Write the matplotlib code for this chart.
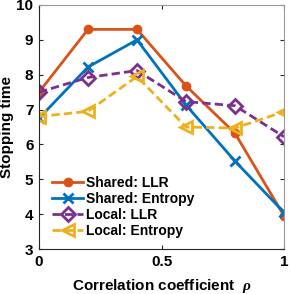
import matplotlib
matplotlib.use("Agg")
from matplotlib import pyplot as plt

plt.rcParams['font.family'] = ['Liberation Sans', 'DejaVu Sans']
plt.rcParams['font.weight'] = 'bold'
plt.rcParams['mathtext.fontset'] = 'custom'
plt.rcParams['mathtext.it'] = 'Liberation Serif:italic'

rho = [0, 0.2, 0.4, 0.6, 0.8, 1.0]
shared_llr = [7.5, 9.3, 9.3, 7.68, 6.32, 3.95]
shared_entropy = [6.75, 8.22, 9.0, 7.13, 5.52, 4.05]
local_llr = [7.5, 7.92, 8.12, 7.23, 7.11, 6.22]
local_entropy = [6.8, 6.95, 7.95, 6.5, 6.47, 6.94]

labels = ["Shared: LLR", "Shared: Entropy", "Local: LLR", "Local: Entropy"]

blue = (0, 0.447, 0.741)
orange = (0.85, 0.325, 0.098)
yellow = (0.929, 0.694, 0.125)
purple = (0.494, 0.184, 0.556)

fig = plt.figure(figsize=(2.91, 2.94), dpi=100)
ax = fig.add_axes([0.134, 0.153, 0.842, 0.830])

ax.plot(rho, shared_llr, color=orange, lw=2, marker='o', ms=6,
        mfc=orange, mec=orange, label=labels[0])
ax.plot(rho, shared_entropy, color=blue, lw=2, marker='x', ms=7,
        mew=2, label=labels[1])
ax.plot(rho, local_llr, color=purple, lw=2, ls=(0, (3, 1.5)), marker='D', ms=7,
        mfc='none', mew=2, label=labels[2])
ax.plot(rho, local_entropy, color=yellow, lw=2, ls=(0, (3, 1.5)), marker='<', ms=9,
        mfc='none', mew=2, label=labels[3])

ax.set_xlim(0, 1)
ax.set_ylim(3, 10)
ax.set_xticks([0, 0.5, 1])
ax.set_xticklabels(["0", "0.5", "1"])
ax.set_yticks(range(3, 11))
ax.tick_params(direction='in', top=True, right=True, labelsize=11, length=3,
               color=(0.15, 0.15, 0.15), pad=4)
for s in ax.spines.values():
    s.set_color((0.15, 0.15, 0.15))
    s.set_linewidth(0.8)
ax.spines['top'].set_color((0.6, 0.6, 0.6))
ax.spines['right'].set_color((0.6, 0.6, 0.6))

ax.set_xlabel(r"Correlation coefficient  $\it{\rho}$", fontsize=11, fontweight='bold', labelpad=6)
ax.set_ylabel("Stopping time", fontsize=11, fontweight='bold', labelpad=2)

leg = ax.legend(loc='lower left', bbox_to_anchor=(0.02, 0.012), frameon=False,
                fontsize=10, handlelength=2.2, handletextpad=0.2, labelspacing=0.15,
                borderaxespad=0.2)

plt.savefig("out.png", dpi=100)
